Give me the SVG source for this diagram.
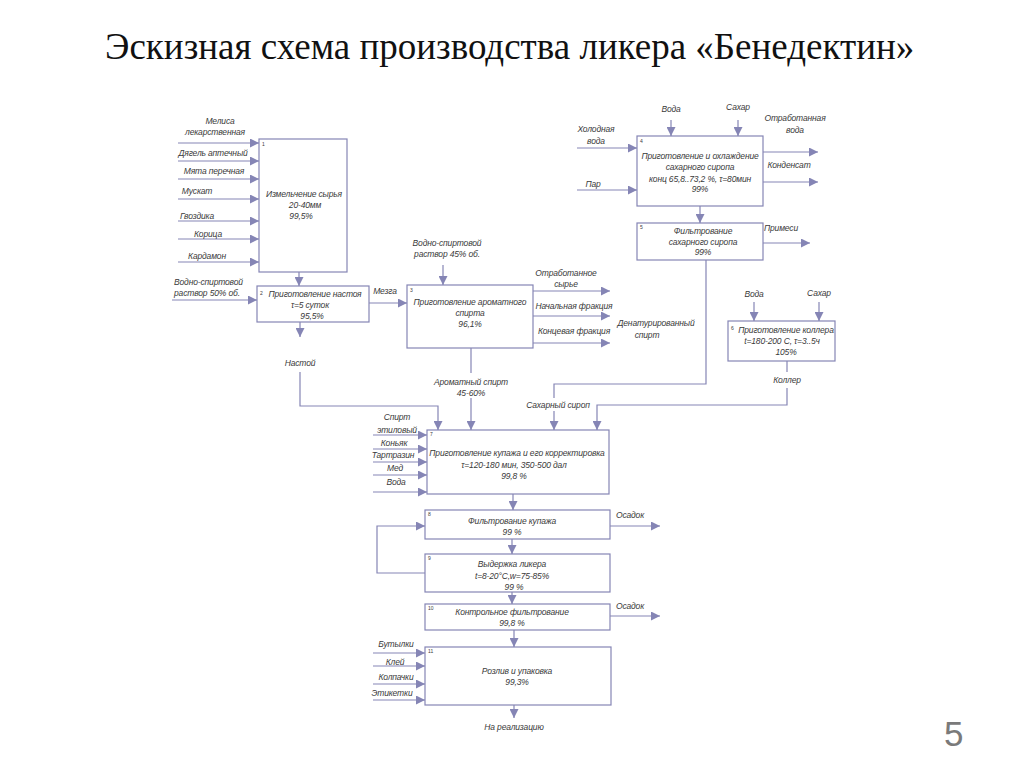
<svg xmlns="http://www.w3.org/2000/svg" width="1024" height="767" viewBox="0 0 1024 767">
<defs>
<marker id="ah" viewBox="0 0 10 10" refX="10" refY="5" markerWidth="9" markerHeight="9" markerUnits="userSpaceOnUse" orient="auto">
<path d="M0,0 L10,5 L0,10 z" fill="#8585b5"/>
</marker>
</defs>
<style>
.box{fill:#ffffff;stroke:#8585b5;stroke-width:1.2}
.c{fill:none;stroke:#8585b5;stroke-width:1.2}
.a{fill:none;stroke:#8585b5;stroke-width:1.2;marker-end:url(#ah)}
text{font-family:"Liberation Sans",Arial,sans-serif;font-style:italic;font-size:8.5px;letter-spacing:-0.15px;fill:#3a3a3a}
.m{text-anchor:middle}
.n{font-size:5px;font-style:normal;letter-spacing:0}
.title{font-family:"Liberation Serif","Times New Roman",serif;font-style:normal;font-size:37px;letter-spacing:0;fill:#111}
.pg{font-family:"Liberation Sans",Arial,sans-serif;font-style:normal;font-size:35px;letter-spacing:0;fill:#7a7a7a}
</style>
<rect width="1024" height="767" fill="#ffffff"/>
<text class="title" x="105" y="59">Эскизная схема производства ликера «Бенедектин»</text>

<g id="connectors">
<path class="a" d="M178,143 H259"/>
<path class="a" d="M178,161 H259"/>
<path class="a" d="M178,179 H259"/>
<path class="a" d="M178,199 H259"/>
<path class="a" d="M178,221 H259"/>
<path class="a" d="M178,239 H259"/>
<path class="a" d="M178,262 H259"/>
<path class="a" d="M299,272 V286"/>
<path class="a" d="M172,300 H257"/>
<path class="a" d="M369,303 H407"/>
<path class="a" d="M300,322 V337"/>
<path class="a" d="M300,372 V406 H438 V430"/>
<path class="a" d="M443,265 V285"/>
<path class="a" d="M533,291 H610"/>
<path class="a" d="M533,316 H610"/>
<path class="a" d="M533,343 H610"/>
<path class="c" d="M471,348 V373"/>
<path class="a" d="M471,398 V430"/>
<path class="a" d="M671,120 V136"/>
<path class="a" d="M738,120 V136"/>
<path class="a" d="M577,148 H637"/>
<path class="a" d="M577,190 H637"/>
<path class="a" d="M763,152 H818"/>
<path class="a" d="M763,182 H818"/>
<path class="a" d="M700,206 V223"/>
<path class="a" d="M763,243 H810"/>
<path class="c" d="M706,260 V384 H554 V398"/>
<path class="a" d="M554,411 V430"/>
<path class="a" d="M754,302 V321"/>
<path class="a" d="M819,302 V321"/>
<path class="c" d="M787,361 V372"/>
<path class="a" d="M787,388 V405 H597 V430"/>
<path class="a" d="M373,435 H427"/>
<path class="a" d="M373,449 H427"/>
<path class="a" d="M373,462 H427"/>
<path class="a" d="M373,475 H427"/>
<path class="a" d="M373,492 H427"/>
<path class="a" d="M513,494 V510"/>
<path class="a" d="M610,526 H660"/>
<path class="a" d="M425,573 H377 V526 H425"/>
<path class="a" d="M512,539 V554"/>
<path class="a" d="M512,592 V604"/>
<path class="a" d="M610,616 H660"/>
<path class="a" d="M514,630 V647"/>
<path class="a" d="M373,653 H425"/>
<path class="a" d="M373,666 H425"/>
<path class="a" d="M373,684 H425"/>
<path class="a" d="M373,700 H425"/>
<path class="a" d="M514,705 V718"/>
</g>

<g id="labels">
<text class="m" x="220" y="124">Мелиса</text>
<text class="m" x="215" y="135">лекарственная</text>
<text class="m" x="213" y="156">Дягель аптечный</text>
<text class="m" x="214" y="174">Мята перечная</text>
<text class="m" x="197" y="194">Мускат</text>
<text class="m" x="197" y="219">Гвоздика</text>
<text class="m" x="208" y="237">Корица</text>
<text class="m" x="207" y="259">Кардамон</text>
<text x="174" y="285">Водно-спиртовой</text>
<text x="174" y="296">раствор 50% об.</text>
<text class="m" x="385" y="294">Мезга</text>
<text class="m" x="300" y="366">Настой</text>
<text class="m" x="447" y="246">Водно-спиртовой</text>
<text class="m" x="447" y="257">раствор 45% об.</text>
<text class="m" x="566" y="276">Отработанное</text>
<text class="m" x="566" y="287">сырье</text>
<text class="m" x="574" y="309">Начальная фракция</text>
<text class="m" x="574" y="334">Концевая фракция</text>
<text class="m" x="656" y="326">Денатурированный</text>
<text class="m" x="647" y="338">спирт</text>
<text class="m" x="471" y="385">Ароматный спирт</text>
<text class="m" x="471" y="396">45-60%</text>
<text class="m" x="671" y="112">Вода</text>
<text class="m" x="738" y="110">Сахар</text>
<text class="m" x="596" y="132">Холодная</text>
<text class="m" x="596" y="144">вода</text>
<text class="m" x="593" y="187">Пар</text>
<text class="m" x="795" y="121">Отработанная</text>
<text class="m" x="795" y="133">вода</text>
<text class="m" x="789" y="168">Конденсат</text>
<text class="m" x="781" y="231">Примеси</text>
<text class="m" x="558" y="408">Сахарный сироп</text>
<text class="m" x="754" y="297">Вода</text>
<text class="m" x="819" y="296">Сахар</text>
<text class="m" x="787" y="383">Коллер</text>
<text class="m" x="397" y="420">Спирт</text>
<text class="m" x="397" y="433">этиловый</text>
<text class="m" x="394" y="446">Коньяк</text>
<text class="m" x="393" y="458">Тартразин</text>
<text class="m" x="395" y="471">Мед</text>
<text class="m" x="396" y="485">Вода</text>
<text class="m" x="630" y="518">Осадок</text>
<text class="m" x="630" y="609">Осадок</text>
<text class="m" x="396" y="647">Бутылки</text>
<text class="m" x="395" y="665">Клей</text>
<text class="m" x="396" y="680">Колпачки</text>
<text class="m" x="392" y="696">Этикетки</text>
<text class="m" x="514" y="730">На реализацию</text>
</g>

<g id="n1">
<rect class="box" x="259" y="139" width="88" height="133"/>
<text class="n" x="262" y="146">1</text>
<text class="m" x="304" y="197">Измельчение сырья</text>
<text class="m" x="305" y="208">20-40мм</text>
<text class="m" x="301" y="219">99,5%</text>
</g>
<g id="n2">
<rect class="box" x="257" y="286" width="112" height="36"/>
<text class="n" x="260" y="295">2</text>
<text class="m" x="315" y="297">Приготовление настоя</text>
<text class="m" x="310" y="308">τ=5 суток</text>
<text class="m" x="312" y="319">95,5%</text>
</g>
<g id="n3">
<rect class="box" x="407" y="285" width="126" height="63"/>
<text class="n" x="410" y="292">3</text>
<text class="m" x="470" y="305">Приготовление ароматного</text>
<text class="m" x="470" y="316">спирта</text>
<text class="m" x="470" y="327">96,1%</text>
</g>
<g id="n4">
<rect class="box" x="637" y="136" width="126" height="70"/>
<text class="n" x="640" y="143">4</text>
<text class="m" x="700" y="159">Приготовление и охлаждение</text>
<text class="m" x="700" y="170">сахарного сиропа</text>
<text class="m" x="700" y="182">конц 65,8..73,2 %, τ=80мин</text>
<text class="m" x="700" y="192">99%</text>
</g>
<g id="n5">
<rect class="box" x="637" y="223" width="126" height="37"/>
<text class="n" x="640" y="229">5</text>
<text class="m" x="703" y="234">Фильтрование</text>
<text class="m" x="703" y="245">сахарного сиропа</text>
<text class="m" x="703" y="255">99%</text>
</g>
<g id="n6">
<rect class="box" x="728" y="321" width="107" height="40"/>
<text class="n" x="731" y="330">6</text>
<text class="m" x="786" y="333">Приготовление коллера</text>
<text class="m" x="782" y="344">t=180-200 С, τ=3..5ч</text>
<text class="m" x="786" y="355">105%</text>
</g>
<g id="n7">
<rect class="box" x="427" y="430" width="182" height="64"/>
<text class="n" x="430" y="436">7</text>
<text class="m" x="517" y="456">Приготовление купажа и его корректировка</text>
<text class="m" x="514" y="468">τ=120-180 мин, 350-500 дал</text>
<text class="m" x="514" y="479">99,8 %</text>
</g>
<g id="n8">
<rect class="box" x="425" y="510" width="185" height="29"/>
<text class="n" x="428" y="516">8</text>
<text class="m" x="512" y="524">Фильтрование купажа</text>
<text class="m" x="512" y="535">99 %</text>
</g>
<g id="n9">
<rect class="box" x="425" y="554" width="185" height="38"/>
<text class="n" x="428" y="560">9</text>
<text class="m" x="512" y="567">Выдержка ликера</text>
<text class="m" x="512" y="579">t=8-20°С,w=75-85%</text>
<text class="m" x="514" y="590">99 %</text>
</g>
<g id="n10">
<rect class="box" x="425" y="604" width="185" height="26"/>
<text class="n" x="428" y="610">10</text>
<text class="m" x="512" y="615">Контрольное фильтрование</text>
<text class="m" x="512" y="626">99,8 %</text>
</g>
<g id="n11">
<rect class="box" x="425" y="647" width="186" height="58"/>
<text class="n" x="428" y="653">11</text>
<text class="m" x="517" y="674">Розлив и упаковка</text>
<text class="m" x="517" y="685">99,3%</text>
</g>

<text class="pg" x="944" y="746">5</text>
</svg>
